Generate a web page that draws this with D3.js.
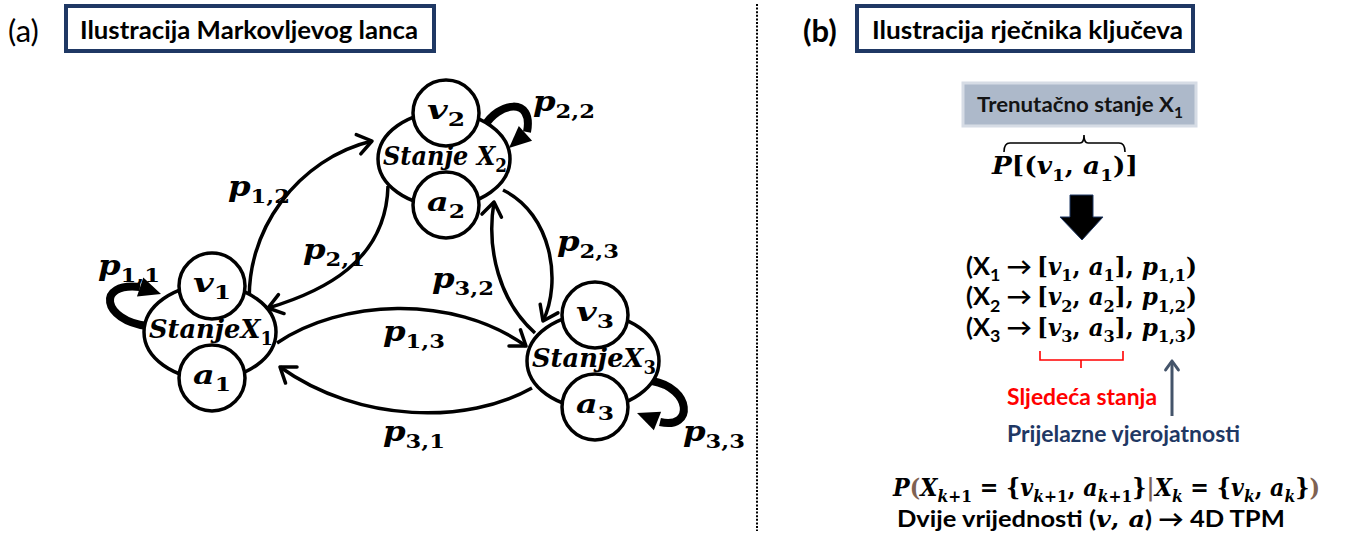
<!DOCTYPE html>
<html>
<head>
<meta charset="utf-8">
<script src="https://cdn.jsdelivr.net/npm/d3@7"></script>
<style>
  body { margin: 0; background: #fff; }
  svg { display: block; }
</style>
</head>
<body>
<div id="fig"></div>
<script>
// ---- data ----
const panelTags = ["(a)", "(b)"];
const titles = ["Ilustracija Markovljevog lanca", "Ilustracija rječnika ključeva"];
const states = [1, 2, 3];
const stateNames = ["StanjeX", "Stanje X", "StanjeX"];
const transitions = [[1, 2], [2, 1], [2, 3], [3, 2], [1, 3], [3, 1]];
const selfLoops = [1, 2, 3];
const currentState = 1;
const nextStates = [1, 2, 3];
const boxLabel = "Trenutačno stanje X";
const nextLabel = "Sljedeća stanja";
const probLabel = "Prijelazne vjerojatnosti";
const tpmLabel = ") → 4D TPM";

// ---- layout (diagram geometry) ----
const W = 1361, H = 535;
const SERIF = "'DejaVu Serif', 'Liberation Serif', serif";
const SANS = "Lato, 'Open Sans', 'Noto Sans', sans-serif";
const NAVY = "#1f3864";

const nodePos = { 1: [210, 332], 2: [444, 159], 3: [593, 361] };
const edgeGeo = {
  "1-2": { d: [[250, 312], [242, 230], [300, 158], [372, 141]], lab: [228, 196] },
  "2-1": { d: [[388, 186], [386, 262], [322, 292], [268, 308]], lab: [303, 259] },
  "2-3": { d: [[503, 190], [552, 214], [562, 282], [543, 321]], lab: [557, 251] },
  "3-2": { d: [[535, 333], [500, 302], [486, 250], [494, 202]], lab: [432, 288] },
  "1-3": { d: [[277, 343], [340, 300], [452, 293], [526, 346]], lab: [383, 341] },
  "3-1": { d: [[532, 388], [468, 424], [360, 424], [280, 367]], lab: [383, 441] }
};
const loopGeo = {
  1: { d: [[147, 326], [102, 320], [96, 282], [140, 287]], tip: [161, 294], lab: [98, 275] },
  2: { d: [[484, 127], [498, 102], [534, 96], [527, 132]], tip: [509, 148], lab: [533, 111] },
  3: { d: [[652, 381], [692, 388], [694, 430], [660, 422]], tip: [637, 413], lab: [683, 441] }
};

const svg = d3.select("#fig").append("svg").attr("width", W).attr("height", H);

// rich text: parts [text, kind, colour]; kinds: i italic serif, r serif, s serif subscript,
// si italic serif subscript, f sans, fs sans subscript. fitW squeezes/stretches horizontally.
function rich(g, x, y, parts, size, anchor, fitW) {
  const t = g.append("text").attr("x", x).attr("y", y)
    .attr("text-anchor", anchor || "start").attr("fill", "#000");
  let shift = 0;
  parts.forEach(([txt, k, col]) => {
    const sub = k === "s" || k === "si" || k === "fs";
    const want = sub ? size * 0.27 : 0;
    const ts = t.append("tspan").text(txt).attr("dy", want - shift);
    shift = want;
    ts.attr("font-family", k[0] === "f" ? SANS : SERIF)
      .attr("font-weight", "bold")
      .attr("font-style", k === "i" || k === "si" ? "italic" : "normal")
      .attr("font-size", sub ? size * 0.7 : size);
    if (col) ts.attr("fill", col);
  });
  if (fitW) {
    const sx = fitW / t.node().getComputedTextLength();
    t.attr("transform", `translate(${x},0) scale(${sx},1) translate(${-x},0)`);
  }
  return t;
}

function openHead(g, tip, from, len, col, sw) {
  const a = Math.atan2(tip[1] - from[1], tip[0] - from[0]);
  const p = d3.path();
  [0.62, -0.62].forEach(o => {
    p.moveTo(tip[0] - len * Math.cos(a + o), tip[1] - len * Math.sin(a + o));
    p.lineTo(tip[0], tip[1]);
  });
  g.append("path").attr("d", p.toString()).attr("fill", "none")
    .attr("stroke", col).attr("stroke-width", sw).attr("stroke-linecap", "round")
    .attr("stroke-linejoin", "round");
}

function cubic(pts) {
  const p = d3.path();
  p.moveTo(...pts[0]);
  p.bezierCurveTo(...pts[1], ...pts[2], ...pts[3]);
  return p.toString();
}

// ---- titles ----
const titleBoxes = [[66, 6, 368, 45, 80, 338], [857, 6, 336, 45, 872, 311]];
titleBoxes.forEach(([bx, by, bw, bh, tx, tw], i) => {
  svg.append("text").attr("x", i ? 803 : 8).attr("y", 42)
    .attr("font-family", SANS).attr("font-size", 31)
    .attr("font-weight", i ? "bold" : "normal").text(panelTags[i]);
  svg.append("rect").attr("x", bx).attr("y", by).attr("width", bw).attr("height", bh)
    .attr("fill", "#fff").attr("stroke", NAVY).attr("stroke-width", 4);
  svg.append("text").attr("x", tx).attr("y", 39)
    .attr("font-family", SANS).attr("font-size", 24).attr("font-weight", "bold")
    .attr("textLength", tw).attr("lengthAdjust", "spacingAndGlyphs").text(titles[i]);
});

// divider
svg.append("line").attr("x1", 757).attr("x2", 757).attr("y1", 4).attr("y2", 531)
  .attr("stroke", "#000").attr("stroke-width", 2).attr("stroke-dasharray", "2,1.6");

// ---- panel (a): Markov chain ----
const ga = svg.append("g");

// transitions
transitions.forEach(([a, b]) => {
  const geo = edgeGeo[a + "-" + b];
  ga.append("path").attr("d", cubic(geo.d)).attr("fill", "none")
    .attr("stroke", "#000").attr("stroke-width", 3.5);
  openHead(ga, geo.d[3], geo.d[2], 17, "#000", 3.5);
  rich(ga, geo.lab[0], geo.lab[1], [["p", "i"], [a + "," + b, "s"]], 27, "start", 62);
});

// self loops
selfLoops.forEach(s => {
  const geo = loopGeo[s];
  ga.append("path").attr("d", cubic(geo.d)).attr("fill", "none")
    .attr("stroke", "#000").attr("stroke-width", 8);
  const e = geo.d[3], t = geo.tip;
  const a = Math.atan2(t[1] - e[1], t[0] - e[0]);
  const hw = 10;
  const back = [t[0] - 22 * Math.cos(a), t[1] - 22 * Math.sin(a)];
  ga.append("path").attr("d",
    `M${t[0]},${t[1]}L${back[0] + hw * Math.sin(a)},${back[1] - hw * Math.cos(a)}` +
    `L${back[0] - hw * Math.sin(a)},${back[1] + hw * Math.cos(a)}Z`)
    .attr("fill", "#000");
  rich(ga, geo.lab[0], geo.lab[1], [["p", "i"], [s + "," + s, "s"]], 27, "start", 62);
});

// states
states.forEach((s, i) => {
  const [cx, cy] = nodePos[s];
  ga.append("ellipse").attr("cx", cx).attr("cy", cy).attr("rx", 66).attr("ry", 47)
    .attr("fill", "#fff").attr("stroke", "#000").attr("stroke-width", 3.5);
  [["v", -46], ["a", 46]].forEach(([sym, dy]) => {
    ga.append("circle").attr("cx", cx + 2).attr("cy", cy + dy).attr("r", 33)
      .attr("fill", "#fff").attr("stroke", "#000").attr("stroke-width", 3.5);
    rich(ga, cx + 2, cy + dy + 6, [[sym, "i"], [String(s), "s"]], 26, "middle", 38);
  });
  rich(ga, cx + 1, cy + 6, [[stateNames[i], "i"], [String(s), "s"]], 26, "middle", 124);
});

// ---- panel (b): key dictionary ----
const gb = svg.append("g");

gb.append("rect").attr("x", 963).attr("y", 83).attr("width", 233).attr("height", 43)
  .attr("fill", "#adb9ca").attr("stroke", "#d6dce5").attr("stroke-width", 3);
rich(gb, 1080, 112, [[boxLabel, "f", "#141414"], [String(currentState), "fs", "#141414"]], 21, "middle", 206);

// brace over (v1, a1)
gb.append("path").attr("d", "M1004,152 Q1004,143 1010,143 L1080,143 Q1084,143 1084,135 Q1084,143 1088,143 L1119,143 Q1125,143 1125,152")
  .attr("fill", "none").attr("stroke", "#000").attr("stroke-width", 1.6);
rich(gb, 992, 174, [["P", "i"], ["[(", "r"], ["v", "i"], [String(currentState), "s"], [", ", "r"],
  ["a", "i"], [String(currentState), "s"], [")]", "r"]], 25, "start", 146);

// block arrow
gb.append("path").attr("d", "M1070,195 L1093,195 L1093,217 L1103,217 L1082,240 L1060,217 L1070,217 Z")
  .attr("fill", "#000").attr("stroke", NAVY).attr("stroke-width", 1);

// next-state rows
nextStates.forEach((n, i) => {
  const y = 275 + i * 30.5;
  rich(gb, 966, y, [["(X", "f"], [String(n), "fs"], [" →", "f"]], 24, "start", 66);
  rich(gb, 1037, y, [["[", "r"], ["v", "i"], [String(n), "s"], [", ", "r"], ["a", "i"],
    [String(n), "s"], ["], ", "r"], ["p", "i"], [currentState + "," + n, "s"], [")", "r"]],
    24, "start", 160);
});

// red brace under [v3, a3]
gb.append("path").attr("d", "M1040,351 L1040,360 L1081,360 L1081,368 M1081,360 L1123,360 L1123,351")
  .attr("fill", "none").attr("stroke", "#ff0000").attr("stroke-width", 1.6);
gb.append("text").attr("x", 1007).attr("y", 405).attr("font-family", SANS)
  .attr("font-size", 22).attr("font-weight", "bold").attr("fill", "#ff0000")
  .attr("textLength", 150).attr("lengthAdjust", "spacingAndGlyphs").text(nextLabel);

// probability arrow
gb.append("line").attr("x1", 1172).attr("x2", 1172).attr("y1", 416).attr("y2", 362)
  .attr("stroke", "#44546a").attr("stroke-width", 3);
openHead(gb, [1172, 361], [1172, 380], 11, "#44546a", 3);
gb.append("text").attr("x", 1007).attr("y", 442).attr("font-family", SANS)
  .attr("font-size", 22).attr("font-weight", "bold").attr("fill", NAVY)
  .attr("textLength", 233).attr("lengthAdjust", "spacingAndGlyphs").text(probLabel);

// transition formula
const BR = "#7f6252";
rich(gb, 893, 496, [["P", "i"], ["(", "r", BR], ["X", "i"], ["k", "si"], ["+1", "s"], [" = {", "r"],
  ["v", "i"], ["k", "si"], ["+1", "s"], [", ", "r"], ["a", "i"], ["k", "si"], ["+1", "s"], ["}", "r"],
  ["|", "r", BR], ["X", "i"], ["k", "si"], [" = {", "r"], ["v", "i"], ["k", "si"], [", ", "r"],
  ["a", "i"], ["k", "si"], ["}", "r"], [")", "r", BR]], 24, "start", 427);
rich(gb, 897, 527, [["Dvije vrijednosti (", "f"], ["v", "i"], [", ", "r"], ["a", "i"], [tpmLabel, "f"]],
  23, "start", 388);
</script>
</body>
</html>
